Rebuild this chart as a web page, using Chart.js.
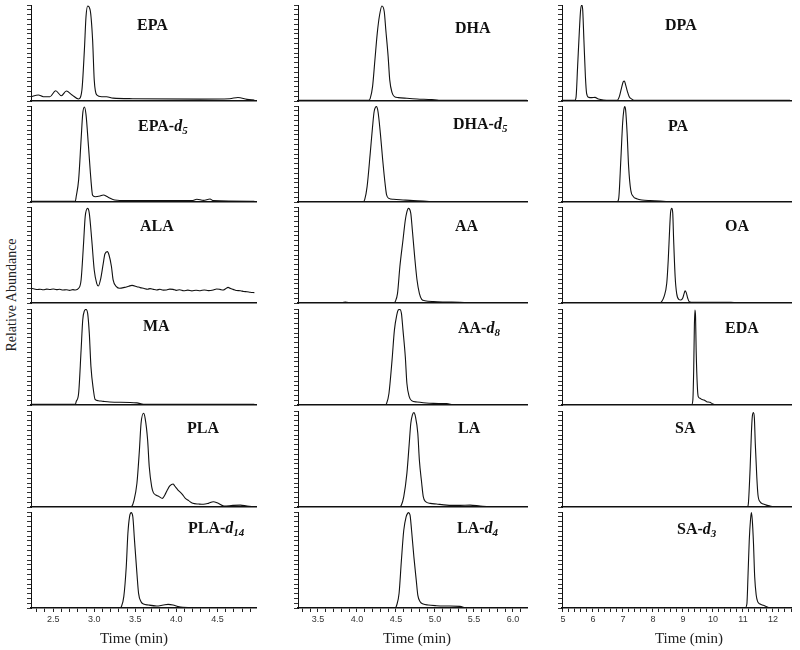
<!DOCTYPE html>
<html>
<head>
<meta charset="utf-8">
<script src="https://cdn.jsdelivr.net/npm/chart.js@4.4.1/dist/chart.umd.min.js"></script>
<style>
  body { margin: 0; background: #fff; }
  #fig { position: relative; width: 800px; height: 650px; overflow: hidden; }
  #fig canvas { position: absolute; }
  .name {
    position: absolute; white-space: nowrap; line-height: 16px;
    font: bold 16px "Liberation Serif", "Times New Roman", serif; color: #111;
  }
  .name sub { font-size: 11px; line-height: 0; vertical-align: -3px; }
  .xtitle {
    position: absolute; top: 630px; white-space: nowrap; line-height: 16px;
    font: 15px "Liberation Serif", "Times New Roman", serif; color: #222;
    transform: translateX(-50%);
  }
  .ytitle {
    position: absolute; left: 12px; top: 295px; white-space: nowrap;
    font: 14px "Liberation Serif", "Times New Roman", serif; color: #222;
    transform: translate(-50%, -50%) rotate(-90deg);
  }
</style>
</head>
<body>
<div id="fig">
  <div class="ytitle">Relative Abundance</div>
</div>
<script>
// ---- Chromatogramme: [Zeit (min), relative Intensität (%)] ----
const epa = [[2.23,4.5],[2.32,6.3],[2.38,4.5],[2.46,4.5],[2.53,10.7],[2.60,5.5],[2.66,10.4],[2.73,6.3],[2.81,2.1],[2.85,11.5],[2.88,53],[2.90,88],[2.92,99],[2.95,95],[2.98,64],[3.00,22],[3.03,6.3],[3.09,4.5],[3.15,4.5],[3.23,3],[3.47,2.4],[4.29,2.0],[4.65,2.4],[4.75,3.7],[4.86,1.7],[4.95,1]];
const epaD5 = [[2.23,0.8],[2.77,0.8],[2.78,5.5],[2.81,23],[2.84,65],[2.86,92],[2.88,99],[2.90,91],[2.93,58],[2.96,23],[2.98,7],[3.01,5.5],[3.07,6.2],[3.11,7.3],[3.17,4.9],[3.25,2],[3.40,1.4],[4.19,1.4],[4.25,2.8],[4.33,1.7],[4.41,3.1],[4.45,1.4],[4.95,0.8]];
const ala = [[2.23,15.3],[2.27,14.6],[2.31,14.0],[2.34,14.4],[2.38,13.8],[2.42,14.5],[2.46,14.0],[2.50,14.6],[2.54,13.9],[2.58,14.3],[2.62,13.5],[2.66,13.8],[2.70,13.2],[2.74,13.9],[2.77,13.5],[2.81,15.3],[2.84,24],[2.87,62],[2.89,90],[2.92,98.6],[2.94,93.4],[2.97,65.6],[3.00,34.4],[3.03,20.5],[3.05,17.7],[3.08,25.7],[3.11,41.3],[3.13,51],[3.16,53.5],[3.18,50],[3.21,37.8],[3.23,24],[3.27,17],[3.31,15.3],[3.37,16.3],[3.42,17.5],[3.46,18.4],[3.52,17],[3.56,16.0],[3.60,15.3],[3.65,14.4],[3.68,15.0],[3.72,14.2],[3.76,13.6],[3.80,14.3],[3.84,13.4],[3.88,13.5],[3.92,14.5],[3.96,14.2],[4.00,13.2],[4.04,13.8],[4.09,12.8],[4.14,13.4],[4.19,12.6],[4.24,13.3],[4.29,12.8],[4.34,13.6],[4.39,12.9],[4.45,13.5],[4.49,14.6],[4.53,14.2],[4.57,13.5],[4.60,14.8],[4.63,16.3],[4.66,15.0],[4.69,14.2],[4.73,13.0],[4.78,12.8],[4.82,12.0],[4.86,11.8],[4.90,11.2],[4.95,10.8]];
const ma = [[2.23,0.6],[2.77,0.6],[2.78,3.5],[2.81,12.2],[2.84,57],[2.86,88.5],[2.88,98],[2.90,99.6],[2.92,95.5],[2.94,74.6],[2.96,40],[2.99,15.6],[3.01,5.9],[3.05,4.5],[3.11,3.8],[3.19,3.1],[3.52,2.2],[3.60,0.6],[4.95,0.6]];
const pla = [[2.23,0.3],[3.44,0.3],[3.46,1],[3.48,5.5],[3.52,24.7],[3.55,59],[3.57,87],[3.60,97.6],[3.62,92.4],[3.65,70],[3.67,42],[3.70,21],[3.72,15],[3.75,12.5],[3.79,10.8],[3.83,9],[3.86,12.5],[3.89,17.7],[3.92,21.9],[3.96,24],[3.98,21.9],[4.02,17.7],[4.07,13.5],[4.11,9],[4.15,6.6],[4.20,3.8],[4.27,3.1],[4.33,2.8],[4.39,3.8],[4.45,5.5],[4.51,3.8],[4.58,1],[4.69,1.7],[4.78,2],[4.86,1],[4.95,0.3]];
const plaD14 = [[2.23,0],[3.31,0],[3.33,1.4],[3.36,11.8],[3.39,43],[3.41,77.8],[3.43,95],[3.45,99.3],[3.47,95],[3.49,71],[3.52,36],[3.54,15.3],[3.57,6.6],[3.60,4.2],[3.66,3.1],[3.76,2.1],[3.84,3.1],[3.90,3.8],[3.96,3.1],[4.02,1.4],[4.08,0.7],[4.95,0]];

const dha = [[3.25,0.8],[4.15,0.8],[4.17,2.8],[4.20,15],[4.23,42.7],[4.26,70.5],[4.29,89.6],[4.32,99],[4.35,93],[4.37,74],[4.40,46],[4.42,22],[4.45,8.7],[4.48,4.5],[4.53,3.5],[4.64,2.8],[4.77,2.1],[4.96,1.4],[5.05,0.8],[6.18,0.8]];
const dhaD5 = [[3.25,0.3],[4.08,0.3],[4.10,2.8],[4.13,16],[4.17,50.7],[4.20,78.5],[4.22,94],[4.25,99.3],[4.27,94],[4.30,71.5],[4.33,43.8],[4.36,19.5],[4.38,7.3],[4.41,3.8],[4.47,2.8],[4.59,2.1],[4.72,1.4],[4.85,1],[4.95,0.3],[6.18,0.3]];
const aa = [[3.25,0],[3.78,0],[3.85,1],[3.93,0],[4.47,0],[4.49,1.4],[4.52,10],[4.55,37.8],[4.59,65.6],[4.62,86.5],[4.64,95],[4.66,98.6],[4.69,93.4],[4.71,76],[4.74,48],[4.77,24],[4.80,10],[4.83,3.8],[4.87,2.4],[4.98,1.4],[5.15,1],[5.32,0.7],[5.45,0],[6.18,0]];
const aaD8 = [[3.25,0],[4.36,0],[4.38,1.7],[4.41,12],[4.45,47],[4.48,78],[4.51,93.7],[4.53,99],[4.55,99.6],[4.57,95.5],[4.59,78],[4.62,50],[4.64,22.6],[4.67,8.7],[4.70,4.5],[4.77,3.1],[4.85,2.4],[4.98,1.7],[5.15,1.4],[5.25,0],[6.18,0]];
const la = [[3.25,0.3],[4.55,0.3],[4.57,2],[4.60,10.8],[4.64,35],[4.67,66],[4.69,87],[4.71,95.8],[4.73,98.3],[4.75,94],[4.78,76.8],[4.80,49],[4.83,24.7],[4.85,10.8],[4.88,5.5],[4.94,3.8],[5.02,3.1],[5.15,2],[5.32,1.7],[5.45,2],[5.58,1],[5.70,0.3],[6.18,0.3]];
const laD4 = [[3.25,0],[4.49,0],[4.51,3.1],[4.54,15.3],[4.57,50],[4.60,81],[4.63,95],[4.65,98.6],[4.66,99.3],[4.68,97],[4.70,81],[4.73,53],[4.76,29],[4.78,13.5],[4.81,6.6],[4.85,4.2],[4.91,3.1],[5.02,2.4],[5.15,2.1],[5.32,1.7],[5.41,0],[6.18,0]];

const dpa = [[4.98,0.8],[5.40,0.8],[5.44,4.5],[5.49,35.8],[5.55,74],[5.59,94.8],[5.63,100],[5.66,94.8],[5.70,63.5],[5.75,25.3],[5.79,8],[5.86,3.8],[5.96,3.5],[6.07,3.8],[6.18,2.1],[6.57,0.8],[6.81,0.8],[6.88,4.5],[6.95,13.2],[7.01,20],[7.05,20.8],[7.09,16.7],[7.15,9.7],[7.21,4.5],[7.29,2.1],[7.37,0.8],[12.57,0.8]];
const pa = [[4.98,0.3],[6.81,0.3],[6.86,3.8],[6.93,43.8],[6.99,82],[7.03,95.8],[7.06,99.3],[7.09,95.8],[7.14,71.5],[7.19,36.8],[7.26,12.5],[7.35,5.5],[7.46,3.5],[7.63,2.1],[7.90,1.4],[8.24,1],[8.50,0.3],[12.57,0.3]];
const oa = [[4.98,0],[8.24,0],[8.29,1.4],[8.37,6.6],[8.46,20.5],[8.51,44.8],[8.56,79.5],[8.59,95],[8.63,98.6],[8.66,93.4],[8.69,65.6],[8.74,27.4],[8.79,10],[8.86,3.8],[8.93,3.1],[8.99,4.9],[9.04,10],[9.07,12.8],[9.11,10.8],[9.16,4.9],[9.21,1.4],[9.35,0.7],[10.60,0.7],[10.80,0],[12.57,0]];
const eda = [[4.98,0.5],[9.29,0.5],[9.33,5.2],[9.36,40],[9.38,81.5],[9.40,99],[9.42,92],[9.44,57],[9.48,19],[9.51,8.7],[9.57,7],[9.62,5.9],[9.70,5.2],[9.79,3.5],[9.90,2.8],[9.96,1.7],[10.05,0.5],[12.57,0.5]];
const sa = [[4.98,0.3],[11.15,0.3],[11.18,3.8],[11.24,42],[11.28,76.8],[11.31,94],[11.35,98.3],[11.38,92.4],[11.41,66],[11.46,31.6],[11.50,12.5],[11.57,5.5],[11.68,3.1],[11.81,1.7],[11.90,1],[12.0,0.3],[12.57,0.3]];
const saD3 = [[4.98,0],[11.07,0],[11.13,4.2],[11.17,36],[11.21,71],[11.25,91.7],[11.28,99.3],[11.31,91.7],[11.35,67.4],[11.39,32.6],[11.44,13.5],[11.49,6.6],[11.57,4.2],[11.68,2.8],[11.79,1.4],[11.9,0],[12.57,0]];

// Spalten: Substanzname (Basis, Deuterierung) und Datenreihe, von oben nach unten
const namesCol1 = [['EPA',''],['EPA','5'],['ALA',''],['MA',''],['PLA',''],['PLA','14']];
const namesCol2 = [['DHA',''],['DHA','5'],['AA',''],['AA','8'],['LA',''],['LA','4']];
const namesCol3 = [['DPA',''],['PA',''],['OA',''],['EDA',''],['SA',''],['SA','3']];
const seriesCol1 = [epa, epaD5, ala, ma, pla, plaD14];
const seriesCol2 = [dha, dhaD5, aa, aaD8, la, laD4];
const seriesCol3 = [dpa, pa, oa, eda, sa, saD3];

// Achsen: Bereich in Minuten, Teilstriche, beschriftete Werte
const xRange = [[2.23, 4.97], [3.244, 6.18], [4.97, 12.6]];
const xMinorStep = [0.1, 0.1, 0.2];
const xTickLabels = [
  ['2.5', '3.0', '3.5', '4.0', '4.5'],
  ['3.5', '4.0', '4.5', '5.0', '5.5', '6.0'],
  ['5', '6', '7', '8', '9', '10', '11', '12'],
];
const yTicks = [0,5,10,15,20,25,30,35,40,45,50,55,60,65,70,75,80,85,90,95,100];

// ---- Layout (Pixel) ----
const colAxisX = [31, 298, 562];
const colRightX = [256, 527, 791];
const colTitleX = [134, 417, 689];
const rowTop = [5, 106, 207, 309, 411, 512];
const panelH = 96;
const labelPos = [
  [[137,24],[138,125],[140,225],[143,325],[187,427],[188,527]],
  [[455,27],[453,123],[455,225],[458,327],[458,427],[457,527]],
  [[665,24],[668,125],[725,225],[725,327],[675,427],[677,528]],
];
const YW = 6, PT = 3, PR = 2, PB = 2, XH = 22;

const fig = document.getElementById('fig');
const allNames = [namesCol1, namesCol2, namesCol3];
const allSeries = [seriesCol1, seriesCol2, seriesCol3];

function minorTicks(c) {
  const [lo, hi] = xRange[c];
  const st = xMinorStep[c];
  const out = [];
  for (let k = Math.ceil(lo / st - 1e-9); k * st <= hi + 1e-9; k++) out.push(+(k * st).toFixed(2));
  return out;
}

function makePanel(c, r) {
  const bottomRow = r === 5;
  const w = colRightX[c] - colAxisX[c] + YW + PR;
  const h = panelH + PT + PB + (bottomRow ? XH : 0);
  const cv = document.createElement('canvas');
  cv.width = w; cv.height = h;
  cv.style.left = (colAxisX[c] - YW) + 'px';
  cv.style.top = (rowTop[r] - PT) + 'px';
  fig.appendChild(cv);

  const ticks = minorTicks(c);
  const labels = xTickLabels[c];

  new Chart(cv, {
    type: 'line',
    data: {
      datasets: [{
        data: allSeries[c][r].map(p => ({ x: p[0], y: p[1] })),
        borderColor: '#111',
        borderWidth: 1.1,
        pointRadius: 0,
        cubicInterpolationMode: 'monotone',
        fill: false,
      }],
    },
    options: {
      responsive: false,
      animation: false,
      devicePixelRatio: 1,
      events: [],
      layout: { padding: { top: PT, right: PR, bottom: PB, left: 0 } },
      plugins: { legend: { display: false }, tooltip: { enabled: false } },
      scales: {
        x: {
          type: 'linear',
          min: xRange[c][0],
          max: xRange[c][1],
          afterBuildTicks: s => { s.ticks = ticks.map(v => ({ value: v })); },
          afterFit: s => { s.height = bottomRow ? XH : 0; },
          grid: { drawOnChartArea: false, drawTicks: bottomRow, tickLength: 4, tickColor: '#222' },
          border: { display: true, color: '#111', width: 1.6 },
          ticks: {
            display: bottomRow,
            autoSkip: false,
            maxRotation: 0,
            padding: 2,
            color: '#333',
            font: { family: '"Liberation Sans", Arial, sans-serif', size: 9 },
            callback: v => {
              const s = c === 2 ? String(Math.round(v)) : v.toFixed(1);
              return (Math.abs(v - Number(s)) < 1e-6 && labels.includes(s)) ? s : '';
            },
          },
        },
        y: {
          min: 0,
          max: 100,
          afterBuildTicks: s => { s.ticks = yTicks.map(v => ({ value: v })); },
          afterFit: s => { s.width = YW; },
          grid: { drawOnChartArea: false, drawTicks: true, tickLength: 4, tickColor: '#333' },
          border: { display: true, color: '#111', width: 1 },
          ticks: { display: false },
        },
      },
    },
  });

  const [base, sub] = allNames[c][r];
  const lab = document.createElement('div');
  lab.className = 'name';
  lab.innerHTML = sub ? `${base}-<i>d<sub>${sub}</sub></i>` : base;
  lab.style.left = labelPos[c][r][0] + 'px';
  lab.style.top = (labelPos[c][r][1] - 8) + 'px';
  fig.appendChild(lab);
}

for (let c = 0; c < 3; c++) {
  for (let r = 0; r < 6; r++) makePanel(c, r);
  const t = document.createElement('div');
  t.className = 'xtitle';
  t.textContent = 'Time (min)';
  t.style.left = colTitleX[c] + 'px';
  fig.appendChild(t);
}
</script>
</body>
</html>
